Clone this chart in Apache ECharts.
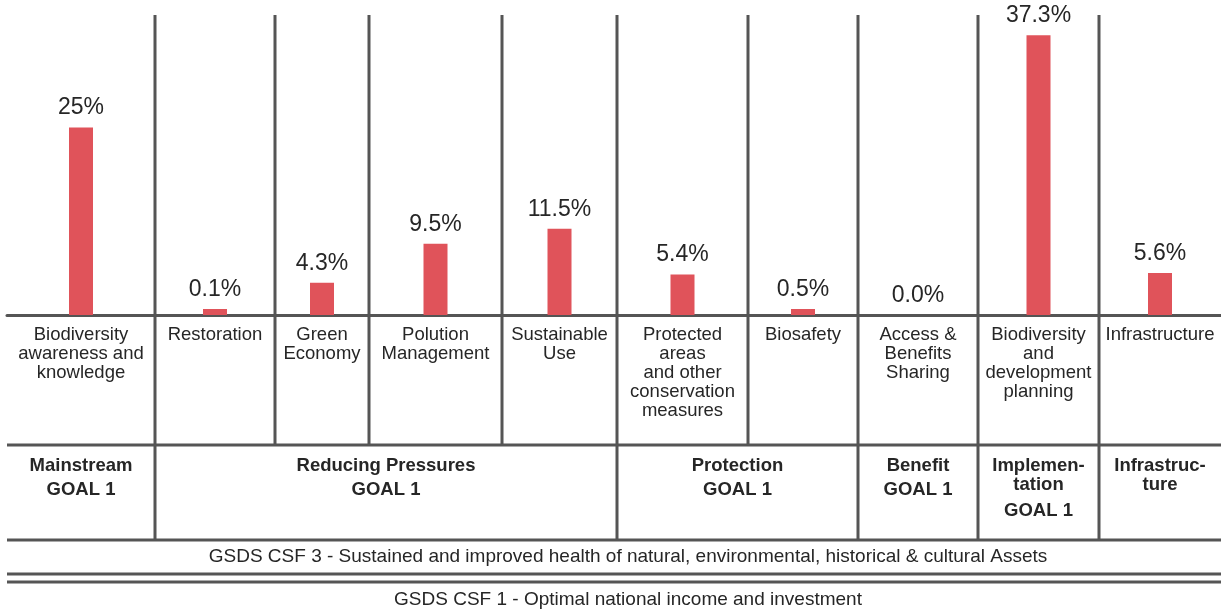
<!DOCTYPE html>
<html>
<head>
<meta charset="utf-8">
<style>
  html, body { margin: 0; padding: 0; background: #ffffff; }
  #chart { width: 1221px; height: 610px; }
</style>
<script src="https://cdn.jsdelivr.net/npm/echarts@6/dist/echarts.min.js"></script>
</head>
<body>
<div id="chart"></div>
<script>
// ---- Data ----
const categories = [
  "Biodiversity\nawareness and\nknowledge",
  "Restoration",
  "Green\nEconomy",
  "Polution\nManagement",
  "Sustainable\nUse",
  "Protected\nareas\nand other\nconservation\nmeasures",
  "Biosafety",
  "Access &\nBenefits\nSharing",
  "Biodiversity\nand\ndevelopment\nplanning",
  "Infrastructure"
];
const values = [25, 0.1, 4.3, 9.5, 11.5, 5.4, 0.5, 0.0, 37.3, 5.6];
const valueLabels = ["25%", "0.1%", "4.3%", "9.5%", "11.5%", "5.4%", "0.5%", "0.0%", "37.3%", "5.6%"];
const groupNames = ["Mainstream", "Reducing Pressures", "Protection", "Benefit", "Implemen-\ntation", "Infrastruc-\nture"];
const groupGoals = ["GOAL 1", "GOAL 1", "GOAL 1", "GOAL 1", "GOAL 1", ""];
const groupSpans = [1, 4, 2, 1, 1, 1];
const csfLabels = [
  "GSDS CSF 3 - Sustained and improved health of natural, environmental, historical & cultural Assets",
  "GSDS CSF 1 - Optimal national income and investment"
];

// ---- Layout ----
const colEdges = [7, 155, 275, 369, 502, 617, 748, 858, 978, 1099, 1221];
const plotTop = 15, plotBottom = 315;
const rowLine1 = 445, rowLine2 = 540, dbl1 = 574, dbl2 = 582;
const lineColor = '#555555';
const textColor = '#262626';
const barColor = '#e0535a';
const FONT = '"Liberation Sans", Arial, Helvetica, sans-serif';

const chart = echarts.init(document.getElementById('chart'), null, { renderer: 'canvas' });

const grids = [], xAxes = [], yAxes = [], series = [];
for (let i = 0; i < categories.length; i++) {
  grids.push({ left: colEdges[i], width: colEdges[i + 1] - colEdges[i], top: plotTop, height: plotBottom - plotTop });
  xAxes.push({
    type: 'category', gridIndex: i, data: [categories[i]],
    axisLine: { show: true, lineStyle: { color: lineColor, width: 3 } },
    axisTick: { show: false },
    axisLabel: { margin: 10, fontSize: 18.5, lineHeight: 19, color: textColor, fontFamily: FONT, interval: 0 }
  });
  yAxes.push({ type: 'value', gridIndex: i, min: 0, max: 40, show: false, splitLine: { show: false } });
  series.push({
    type: 'bar', xAxisIndex: i, yAxisIndex: i, data: [values[i]], barWidth: 24,
    barMinHeight: values[i] > 0 ? 6 : 0,
    itemStyle: { color: barColor },
    label: {
      show: true, position: 'top', distance: 8,
      formatter: valueLabels[i], fontSize: 23, color: textColor, fontFamily: FONT
    },
    silent: true, animation: false
  });
}

// Divider lines & group labels
const graphic = [];
const groupBoundaries = new Set();
let acc = 0;
groupSpans.forEach(s => { acc += s; groupBoundaries.add(acc); });
for (let k = 1; k < colEdges.length - 1; k++) {
  const full = groupBoundaries.has(k);
  graphic.push({
    type: 'line', silent: true,
    shape: { x1: colEdges[k], y1: plotTop, x2: colEdges[k], y2: full ? rowLine2 : rowLine1 },
    style: { stroke: lineColor, lineWidth: 3 }
  });
}
[rowLine1, rowLine2, dbl1, dbl2].forEach(y => {
  graphic.push({
    type: 'line', silent: true,
    shape: { x1: colEdges[0], y1: y, x2: colEdges[colEdges.length - 1], y2: y },
    style: { stroke: lineColor, lineWidth: 3 }
  });
});
let start = 0;
groupNames.forEach((name, g) => {
  const end = start + groupSpans[g];
  const cx = (colEdges[start] + colEdges[end]) / 2;
  const nLines = name.split('\n').length;
  graphic.push({
    type: 'text', silent: true, x: cx, y: 466 - 9.5,
    style: { text: name, align: 'center', verticalAlign: 'top', fontSize: 18.5, fontWeight: 'bold', fontFamily: FONT, lineHeight: 19, fill: textColor }
  });
  if (groupGoals[g]) {
    graphic.push({
      type: 'text', silent: true, x: cx, y: 466 + (nLines - 1) * 21 + 24 - 9.5,
      style: { text: groupGoals[g], align: 'center', verticalAlign: 'top', fontSize: 18.5, fontWeight: 'bold', fontFamily: FONT, lineHeight: 19, fill: textColor }
    });
  }
  start = end;
});
[557, 600].forEach((y, j) => {
  graphic.push({
    type: 'text', silent: true, x: 628, y: y,
    style: { text: csfLabels[j], align: 'center', verticalAlign: 'middle', fontSize: 19, fontFamily: FONT, fill: textColor }
  });
});

chart.setOption({
  backgroundColor: '#ffffff',
  animation: false,
  grid: grids,
  xAxis: xAxes,
  yAxis: yAxes,
  series: series,
  graphic: graphic
});
</script>
</body>
</html>
